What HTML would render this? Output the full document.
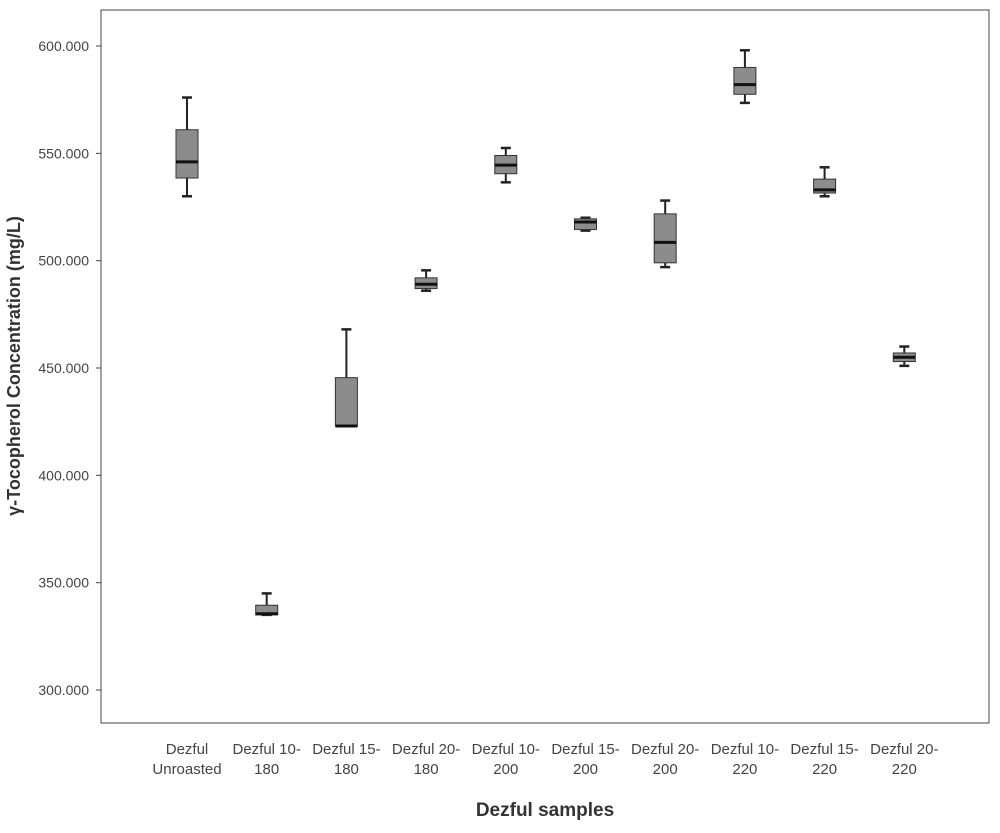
<!DOCTYPE html>
<html><head><meta charset="utf-8"><style>
html,body{margin:0;padding:0;background:#fff;}
svg{display:block;font-family:"Liberation Sans",Arial,sans-serif;}
</style></head><body>
<svg id="chart" width="1000" height="833" viewBox="0 0 1000 833">
<rect x="101" y="10" width="888" height="713" fill="#fff" stroke="#444" stroke-width="1"/>
<g id="yaxis"></g>
<g id="boxes"></g>
<g id="xaxis"></g>
<text x="20" y="366" transform="rotate(-90 20 366)" text-anchor="middle" font-size="18" font-weight="bold" fill="#333">γ-Tocopherol Concentration (mg/L)</text>
<text x="545" y="816" text-anchor="middle" font-size="19" font-weight="bold" fill="#333">Dezful samples</text>
</svg>
<script>
const categories1 = ["Dezful","Dezful 10-","Dezful 15-","Dezful 20-","Dezful 10-","Dezful 15-","Dezful 20-","Dezful 10-","Dezful 15-","Dezful 20-"];
const categories2 = ["Unroasted","180","180","180","200","200","200","220","220","220"];
const whiskerHigh = [576, 345, 468, 495.5, 552.5, 520, 528, 598, 543.5, 460];
const q3Values    = [561, 339.5, 445.5, 492, 549, 519.5, 521.8, 590, 538, 457];
const medians     = [546, 335.5, 423, 489, 544.5, 518, 508.5, 582, 533, 455];
const q1Values    = [538.5, 335, 423, 487, 540.5, 514.5, 499, 577.5, 531.5, 453];
const whiskerLow  = [530, 335, 423, 486, 536.5, 514, 497, 573.5, 530, 451];
const yTicks = [300, 350, 400, 450, 500, 550, 600];

const NS = "http://www.w3.org/2000/svg";
function y(v){ return 46 + (600 - v) * 2.1467; }
function x(i){ return 187 + i * 79.7; }
function mk(tag, attrs, parent){ const e=document.createElementNS(NS,tag); for(const k in attrs) e.setAttribute(k,attrs[k]); parent.appendChild(e); return e; }

const ya = document.getElementById("yaxis");
yTicks.forEach(t=>{
  const l = mk("line",{x1:96,x2:101,y1:y(t),y2:y(t),stroke:"#444"},ya);
  
  
  const tx = mk("text",{x:89,y:y(t)+5,"text-anchor":"end","font-size":14,fill:"#444"},ya);
  tx.textContent = t.toFixed(3);
  
  
});

const bx = document.getElementById("boxes");
const xa = document.getElementById("xaxis");
const hw = 11, cw = 5;
categories1.forEach((c,i)=>{
  const cx = x(i);
  const g = mk("g",{},bx);
  
  
  mk("line",{x1:cx,x2:cx,y1:y(whiskerHigh[i]),y2:y(q3Values[i]),stroke:"#222","stroke-width":2},g);
  mk("line",{x1:cx,x2:cx,y1:y(q1Values[i]),y2:y(whiskerLow[i]),stroke:"#222","stroke-width":2},g);
  mk("line",{x1:cx-cw,x2:cx+cw,y1:y(whiskerHigh[i]),y2:y(whiskerHigh[i]),stroke:"#222","stroke-width":2.5},g);
  mk("line",{x1:cx-cw,x2:cx+cw,y1:y(whiskerLow[i]),y2:y(whiskerLow[i]),stroke:"#222","stroke-width":2.5},g);
  const top=y(q3Values[i]), bot=y(q1Values[i]);
  mk("rect",{x:cx-hw,y:top,width:hw*2,height:Math.max(bot-top,1),fill:"#8c8c8c",stroke:"#333","stroke-width":1},g);
  mk("line",{x1:cx-hw,x2:cx+hw,y1:y(medians[i]),y2:y(medians[i]),stroke:"#111","stroke-width":3},g);
  const t1 = mk("text",{x:cx,y:754,"text-anchor":"middle","font-size":15,fill:"#444"},xa);
  t1.textContent = c;
  
  
  const t2 = mk("text",{x:cx,y:774,"text-anchor":"middle","font-size":15,fill:"#444"},xa);
  t2.textContent = categories2[i];
  
  
});
</script>
</body></html>
